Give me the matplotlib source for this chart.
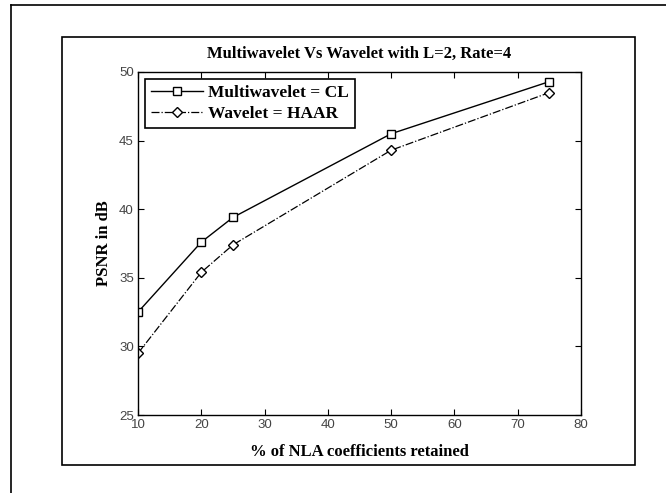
import matplotlib
matplotlib.use("Agg")
import matplotlib.pyplot as plt
from matplotlib.lines import Line2D
from matplotlib.patches import Rectangle

# data
coeffs_retained = [10, 20, 25, 50, 75]
psnr_multiwavelet = [32.5, 37.6, 39.4, 45.5, 49.3]
psnr_wavelet = [29.5, 35.4, 37.4, 44.3, 48.5]
x_ticks = [10, 20, 30, 40, 50, 60, 70, 80]
y_ticks = [25, 30, 35, 40, 45, 50]

W, H = 666, 493
fig = plt.figure(figsize=(W / 100, H / 100), dpi=100)
ax = fig.add_axes([138 / W, 1 - 415 / H, (581 - 138) / W, (415 - 72) / H])

serif = "Liberation Serif"
sans = "Liberation Sans"

ax.plot(coeffs_retained, psnr_multiwavelet, "-", color="black", lw=1.0,
        marker="s", ms=6, mfc="white", mec="black", mew=1.0,
        label="Multiwavelet = CL")
ax.plot(coeffs_retained, psnr_wavelet, "-.", color="black", lw=0.9,
        marker="D", ms=5, mfc="white", mec="black", mew=1.0,
        label="Wavelet = HAAR")

ax.set_xlim(10, 80)
ax.set_ylim(25, 50)
ax.set_xticks(x_ticks)
ax.set_yticks(y_ticks)
ax.tick_params(direction="in", length=4, width=0.8, top=True, right=True,
               labelsize=9.5, pad=3, labelcolor="#444444")
for lab in ax.get_xticklabels() + ax.get_yticklabels():
    lab.set_family(sans)
for s in ax.spines.values():
    s.set_linewidth(1.0)

ax.set_title("Multiwavelet Vs Wavelet with L=2, Rate=4", fontsize=12,
             fontweight="bold", family=serif, pad=10)
ax.set_xlabel("% of NLA coefficients retained", fontsize=12,
              fontweight="bold", family=serif, labelpad=9)
ax.set_ylabel("PSNR in dB", fontsize=12, fontweight="bold", family=serif,
              labelpad=5)

leg = ax.legend(loc="upper left", frameon=True, fancybox=False,
                edgecolor="black", framealpha=1, borderaxespad=0.4,
                handlelength=3, prop={"family": serif, "weight": "bold", "size": 12.5},
                borderpad=0.35, labelspacing=0.25, handletextpad=0.3)
leg.get_frame().set_linewidth(1.2)

# middle frame around the figure
fig.add_artist(Rectangle((62 / W, 1 - 465 / H), (635 - 62) / W, (465 - 37) / H,
                         transform=fig.transFigure, fill=False, lw=1.2,
                         edgecolor="black"))
# outer page border (top and left only)
fig.add_artist(Line2D([11 / W, 1], [1 - 5 / H, 1 - 5 / H],
                      transform=fig.transFigure, color="black", lw=1.2))
fig.add_artist(Line2D([11 / W, 11 / W], [0, 1 - 5 / H],
                      transform=fig.transFigure, color="black", lw=1.2))

fig.savefig("out.png", dpi=100)
